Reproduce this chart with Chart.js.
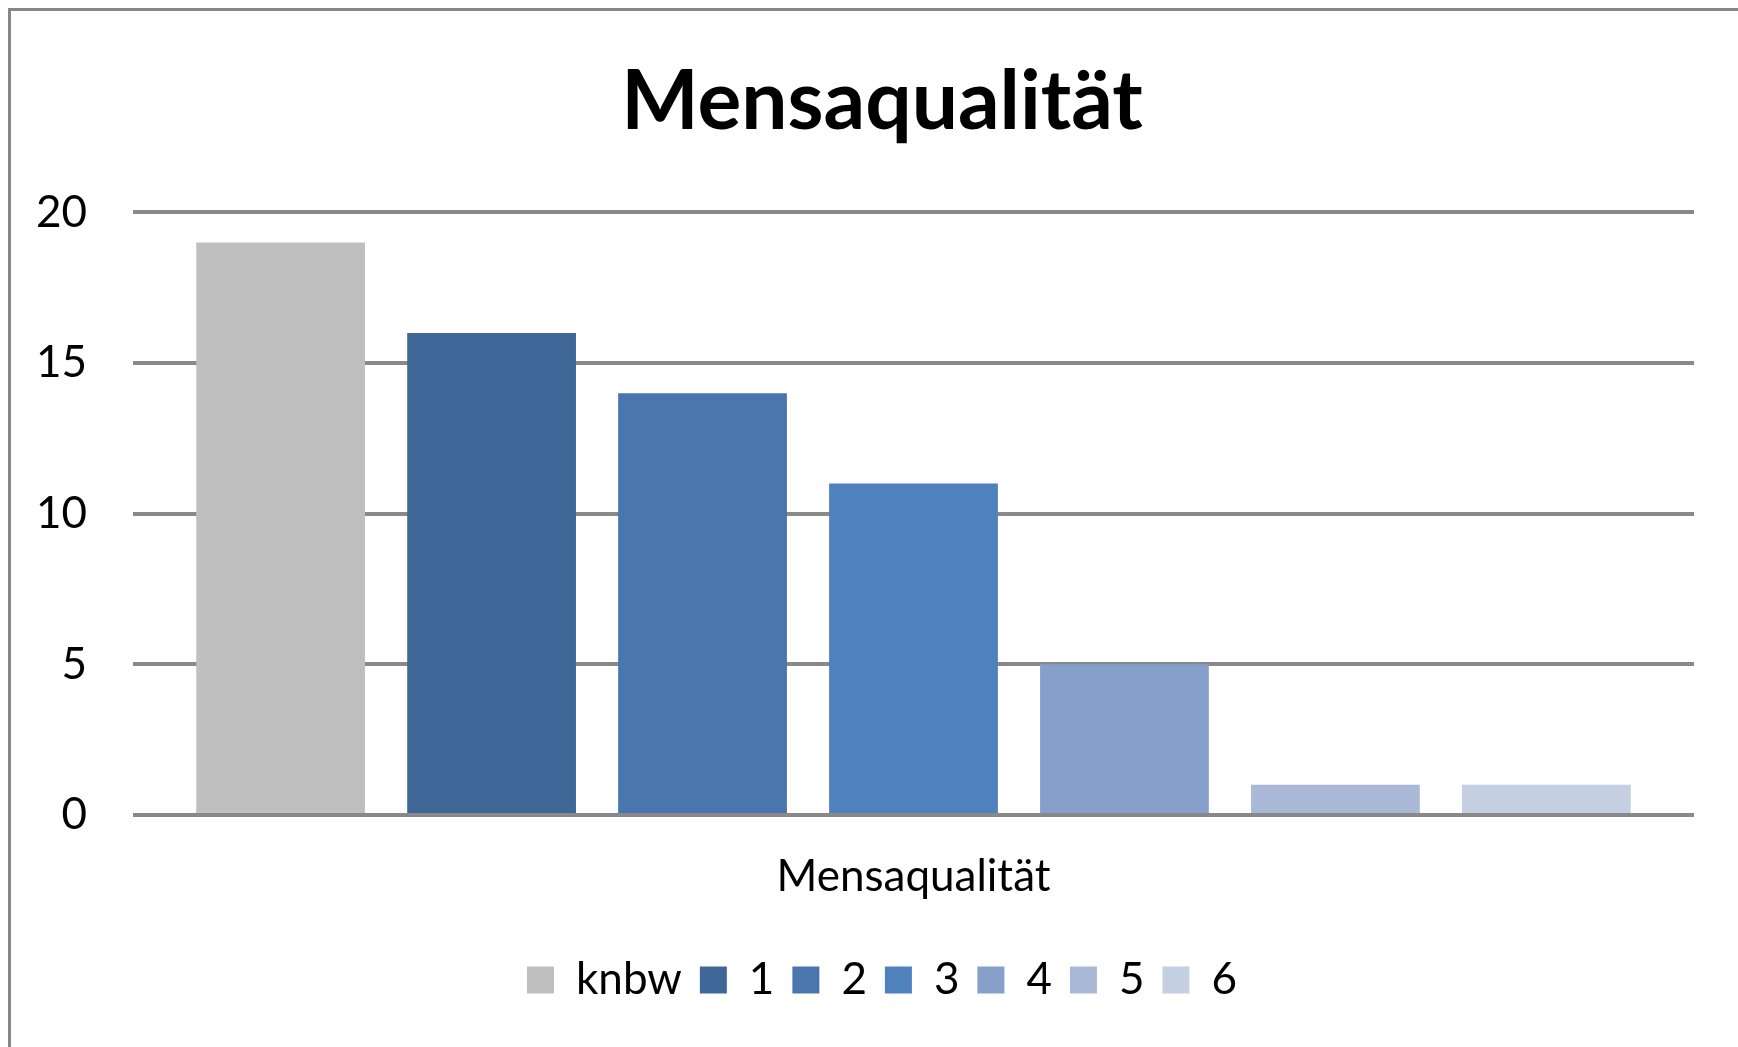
<!DOCTYPE html>
<html>
<head>
<meta charset="utf-8">
<script src="https://cdn.jsdelivr.net/npm/chart.js@4"></script>
<style>
  html, body { margin: 0; padding: 0; background: #fff; overflow: hidden; }
  #wrap { position: relative; width: 1738px; height: 1047px; }
  #frame {
    position: absolute; left: 8px; top: 8px; width: 2000px; height: 2000px;
    border-left: 3px solid #878787; border-top: 3px solid #878787;
    pointer-events: none;
  }
</style>
</head>
<body>
<div id="wrap">
  <canvas id="mensaChart" width="1738" height="1047"></canvas>
  <div id="frame"></div>
</div>
<script>
const categories = ['Mensaqualität'];
const seriesNames = ['knbw', '1', '2', '3', '4', '5', '6'];
const seriesValues = [19, 16, 14, 11, 5, 1, 1];
const yTicks = [0, 5, 10, 15, 20];
const barColors = ['#BFBFBF', '#3F6899', '#4876AD', '#4F81BD', '#86A0CB', '#AAB9D7', '#C4CFE2'];

const ctx = document.getElementById('mensaChart');
const fontFamily = 'Lato, "Open Sans", sans-serif';

// one dataset per grade, all in the single category
const datasets = seriesNames.map((name, i) => ({
  label: name,
  data: [seriesValues[i]],
  backgroundColor: barColors[i],
  borderWidth: 0,
  barPercentage: 0.8,
  categoryPercentage: 0.946,
}));

const mensaChart = new Chart(ctx, {
  type: 'bar',
  data: {
    labels: categories,
    datasets: datasets,
  },
  options: {
    responsive: false,
    animation: false,
    layout: { padding: { left: 26, right: 0, top: 0, bottom: 35 } },
    plugins: {
      title: {
        display: true,
        text: 'Mensaqualität',
        color: '#000',
        font: { family: fontFamily, size: 82, weight: 'bold' },
        padding: { top: 53, bottom: 61 },
      },
      legend: {
        position: 'bottom',
        labels: {
          color: '#000',
          font: { family: fontFamily, size: 44 },
          boxWidth: 27,
          boxHeight: 27,
          padding: 18,
        },
      },
      tooltip: { enabled: false },
    },
    scales: {
      x: {
        grid: { display: false },
        border: { display: false },
        ticks: {
          color: '#000',
          font: { family: fontFamily, size: 44 },
          padding: 27,
        },
        afterFit: (scale) => { scale.height = 125; },
      },
      y: {
        min: yTicks[0],
        max: yTicks[yTicks.length - 1],
        afterBuildTicks: (scale) => { scale.ticks = yTicks.map(v => ({ value: v })); },
        grid: { color: '#898989', lineWidth: 4, drawTicks: false },
        border: { display: false },
        ticks: {
          color: '#000',
          font: { family: fontFamily, size: 44 },
          padding: 46,
        },
        afterFit: (scale) => { scale.width = 107; },
      },
      yRight: {
        position: 'right',
        grid: { display: false },
        border: { display: false },
        ticks: { display: false },
        afterFit: (scale) => { scale.width = 44; },
      },
    },
  },
});
</script>
</body>
</html>
